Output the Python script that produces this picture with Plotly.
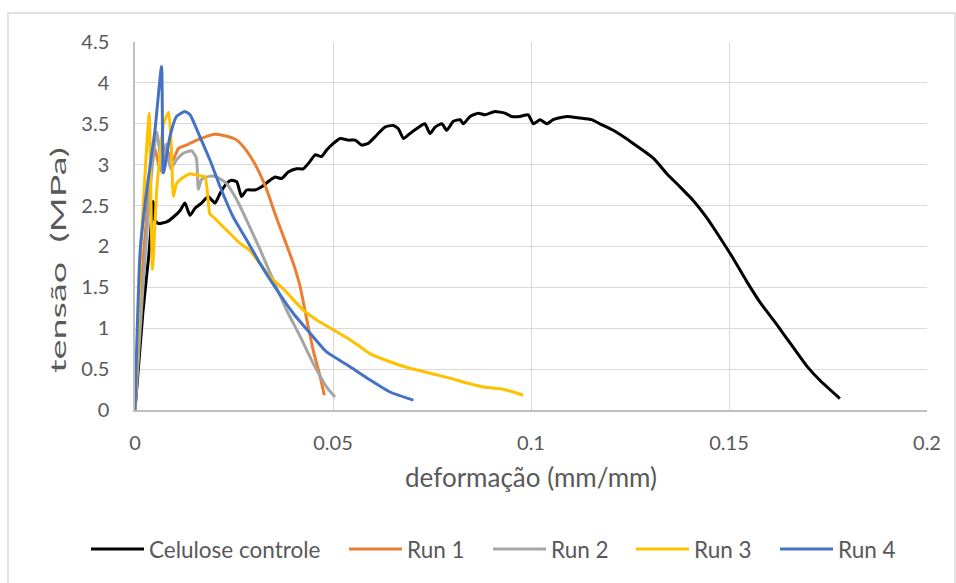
import plotly.graph_objects as go

# Stress-strain curves: strain (mm/mm) and stress (MPa)
celulose_x = [0, 0.002, 0.0035, 0.0046, 0.005, 0.0059, 0.008, 0.0097, 0.0114, 0.0126, 0.0139, 0.0152,
              0.0168, 0.0185, 0.0202, 0.0215, 0.0231, 0.0244, 0.0257, 0.0269, 0.0282, 0.0303, 0.032,
              0.0341, 0.0354, 0.037, 0.0387, 0.0408, 0.0425, 0.0442, 0.0455, 0.0471, 0.0484, 0.0501,
              0.0518, 0.0539, 0.0556, 0.0572, 0.0589, 0.061, 0.0631, 0.0652, 0.0665, 0.0678, 0.0694,
              0.0711, 0.0732, 0.0745, 0.0758, 0.0775, 0.0787, 0.0804, 0.0821, 0.0829, 0.0846, 0.0867,
              0.0884, 0.0909, 0.0934, 0.0951, 0.0972, 0.0993, 0.1006, 0.1023, 0.104, 0.1056, 0.109,
              0.1124, 0.1153, 0.1174, 0.1208, 0.1258, 0.1309, 0.1343, 0.1376, 0.141, 0.1444, 0.1477,
              0.1511, 0.1545, 0.1578, 0.162, 0.1654, 0.1696, 0.173, 0.178]
celulose_y = [0, 1.2, 1.9, 2.55, 2.32, 2.28, 2.3, 2.36, 2.44, 2.53, 2.38, 2.47,
              2.53, 2.61, 2.53, 2.65, 2.77, 2.81, 2.79, 2.61, 2.69, 2.69, 2.73,
              2.81, 2.85, 2.83, 2.91, 2.95, 2.95, 3.04, 3.12, 3.1, 3.18, 3.26,
              3.32, 3.3, 3.3, 3.24, 3.26, 3.36, 3.46, 3.48, 3.44, 3.32, 3.38,
              3.44, 3.5, 3.38, 3.46, 3.5, 3.42, 3.53, 3.55, 3.5, 3.59, 3.63,
              3.61, 3.65, 3.63, 3.59, 3.59, 3.61, 3.5, 3.55, 3.5, 3.55, 3.59,
              3.57, 3.55, 3.5, 3.42, 3.26, 3.08, 2.89, 2.73, 2.56, 2.35, 2.11,
              1.85, 1.57, 1.32, 1.05, 0.82, 0.54, 0.36, 0.14]

run1_x = [0, 0.002, 0.004, 0.005, 0.006, 0.007, 0.0085, 0.0095, 0.011, 0.013, 0.0156, 0.0198,
          0.023, 0.0257, 0.028, 0.0307, 0.0333, 0.0352, 0.0375, 0.04, 0.0417, 0.0434, 0.045,
          0.0467, 0.0478]
run1_y = [0, 1.8, 2.9, 3.2, 3.0, 2.9, 3.15, 3.05, 3.2, 3.24, 3.3, 3.37,
          3.35, 3.3, 3.18, 2.97, 2.69, 2.42, 2.12, 1.79, 1.51, 1.1, 0.73,
          0.42, 0.18]

run2_x = [0, 0.002, 0.004, 0.0055, 0.007, 0.0078, 0.009, 0.0105, 0.0122, 0.0143, 0.0155, 0.016,
          0.0168, 0.019, 0.0206, 0.0231, 0.0257, 0.0282, 0.0316, 0.0349, 0.0383, 0.0417, 0.045,
          0.0484, 0.0505]
run2_y = [0, 1.5, 2.8, 3.4, 2.9, 3.25, 2.95, 3.06, 3.14, 3.17, 3.08, 2.7,
          2.82, 2.86, 2.85, 2.77, 2.57, 2.32, 1.96, 1.59, 1.22, 0.9, 0.57,
          0.28, 0.16]

run3_x = [0, 0.0015, 0.0028, 0.0036, 0.0044, 0.0055, 0.0065, 0.0072, 0.0085, 0.0092, 0.0097,
          0.0105, 0.0118, 0.0139, 0.0156, 0.0177, 0.0183, 0.0189, 0.0198, 0.0231, 0.0265, 0.029,
          0.0341, 0.0375, 0.0425, 0.0459, 0.0501, 0.0543, 0.0593, 0.0644, 0.0694, 0.0745, 0.0795,
          0.0838, 0.088, 0.0922, 0.0955, 0.098]
run3_y = [0, 2.0, 3.1, 3.63, 1.72, 2.7, 3.2, 3.5, 3.64, 3.2, 2.61,
          2.77, 2.83, 2.89, 2.87, 2.85, 2.65, 2.4, 2.36, 2.2, 2.04, 1.95,
          1.63, 1.48, 1.22, 1.1, 0.98, 0.86, 0.69, 0.59, 0.51, 0.45, 0.39,
          0.33, 0.28, 0.26, 0.22, 0.18]

run4_x = [0, 0.0013, 0.003, 0.005, 0.0067, 0.0072, 0.0088, 0.0105, 0.0126, 0.0139, 0.0164, 0.0189,
          0.0215, 0.0248, 0.0282, 0.0316, 0.0358, 0.04, 0.0442, 0.0484, 0.0543, 0.0593, 0.0644,
          0.0703]
run4_y = [0, 1.95, 2.7, 3.4, 4.2, 2.9, 3.34, 3.59, 3.65, 3.61, 3.34, 3.06,
          2.73, 2.36, 2.08, 1.79, 1.47, 1.18, 0.94, 0.71, 0.53, 0.37, 0.22,
          0.12]

series_names = ["Celulose controle", "Run 1", "Run 2", "Run 3", "Run 4"]
series_colors = ["#000000", "#ED7D31", "#A5A5A5", "#FFC000", "#4472C4"]

x_ticks = [0, 0.05, 0.1, 0.15, 0.2]
y_ticks = [0, 0.5, 1, 1.5, 2, 2.5, 3, 3.5, 4, 4.5]

FONT = "Lato, 'Liberation Sans', sans-serif"
TEXT = "#595959"

# Plot area geometry in pixels (used to place the key below the chart)
W, H = 956, 583
ML, MR, MT, MB = 135, 29, 42, 173
PW, PH = W - ML - MR, H - MT - MB


def px_to_paper_x(px):
    return (px - ML) / PW


def px_to_paper_y(py):
    return (H - MB - py) / PH


fig = go.Figure()
data = [(celulose_x, celulose_y), (run1_x, run1_y), (run2_x, run2_y),
        (run3_x, run3_y), (run4_x, run4_y)]
for (xs, ys), name, color in zip(data, series_names, series_colors):
    fig.add_trace(go.Scatter(
        x=xs, y=ys, mode="lines", name=name, showlegend=False,
        line=dict(color=color, width=3, shape="spline", smoothing=0.5),
    ))

# Key below the chart: a long line sample followed by the series name
key_starts = [91, 349, 493, 636, 780]
key_len, key_gap, key_y = 53, 3, 549
shapes = [dict(type="rect", xref="paper", yref="paper",
               x0=px_to_paper_x(8), x1=px_to_paper_x(955),
               y0=px_to_paper_y(600), y1=px_to_paper_y(13),
               line=dict(color="#D9D9D9", width=1.5), fillcolor="rgba(0,0,0,0)",
               layer="below")]
annotations = []
for start, name, color in zip(key_starts, series_names, series_colors):
    shapes.append(dict(type="line", xref="paper", yref="paper",
                       x0=px_to_paper_x(start), x1=px_to_paper_x(start + key_len),
                       y0=px_to_paper_y(key_y), y1=px_to_paper_y(key_y),
                       line=dict(color=color, width=3)))
    annotations.append(dict(xref="paper", yref="paper",
                            x=px_to_paper_x(start + key_len + key_gap), y=px_to_paper_y(key_y),
                            xanchor="left", yanchor="middle", showarrow=False, text=name,
                            font=dict(family=FONT, size=22.5, color=TEXT)))

fig.update_layout(
    width=W, height=H,
    margin=dict(l=ML, r=MR, t=MT, b=MB),
    paper_bgcolor="white", plot_bgcolor="white",
    font=dict(family=FONT, color=TEXT, size=20),
    showlegend=False,
    xaxis=dict(range=[0, 0.2], tickvals=x_ticks, ticktext=[f"{v:g}" for v in x_ticks],
               showgrid=True, gridcolor="#D9D9D9", gridwidth=1,
               showline=True, linecolor="#BFBFBF", linewidth=1.5, ticks="",
               zeroline=False, tickfont=dict(size=20), ticklabelstandoff=14,
               title=dict(text="deformação (mm/mm)", font=dict(size=26), standoff=16)),
    yaxis=dict(range=[0, 4.5], tickvals=y_ticks, ticktext=[f"{v:g}" for v in y_ticks],
               showgrid=True, gridcolor="#D9D9D9", gridwidth=1,
               showline=True, linecolor="#BFBFBF", linewidth=1.5, ticks="",
               zeroline=False, tickfont=dict(size=20), ticklabelstandoff=20,
               title=dict(text="tensão  (MPa)", font=dict(size=21), standoff=9)),
    shapes=shapes,
    annotations=annotations,
)

# The vertical axis title is drawn elongated along its reading direction
# and centred a little below the middle of the plot area.
stretch_title = """
var t = document.querySelector('.ytitle');
if (t) {
  var x = parseFloat(t.getAttribute('x')), y = parseFloat(t.getAttribute('y'));
  t.setAttribute('transform', 'rotate(-90,' + x + ',' + y + ') translate(' + (x - 34) + ',' + y +
                 ') scale(1.8,1) translate(' + (-x) + ',' + (-y) + ')');
}
"""

fig.write_html("out.html", post_script=stretch_title)
